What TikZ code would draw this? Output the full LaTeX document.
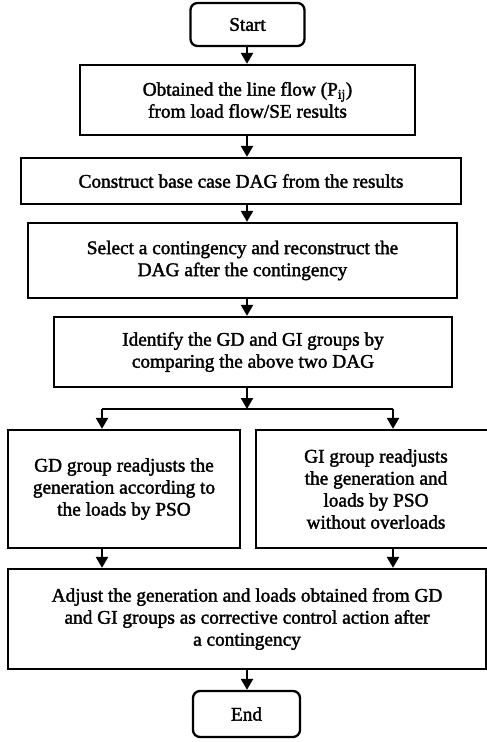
\documentclass[tikz,border=0pt]{standalone}
\usepackage{fontspec}
\setmainfont{Liberation Serif}
\newfontfamily\heavyserif[FakeBold=1.8]{Liberation Serif}
\usetikzlibrary{arrows.meta}
\begin{document}
\begin{tikzpicture}[x=1pt,y=-1pt,
  every node/.style={font=\heavyserif\fontsize{19.3}{22}\selectfont, align=center, inner sep=0pt},
  procbox/.style={draw, line width=2.3pt, minimum width=#1},
  termbox/.style={draw, line width=2.3pt, rounded corners=7pt},
  flow/.style={line width=2.3pt, -{Triangle[width=12pt,length=11pt]}},
  plain/.style={line width=2.3pt}]
  % page frame
  \useasboundingbox (0,0) rectangle (487,742);
  \fill[white] (0,0) rectangle (487,742);

  % main column axis and branch points
  \coordinate (spine) at (247,0);
  \coordinate (split) at (247,409);
  \coordinate (jl) at (102,409);
  \coordinate (jr) at (393,409);

  % steps of the procedure
  \node[termbox, minimum width=114pt, minimum height=43pt] (start) at (247.5,24.5) {Start};
  \node[procbox=335pt, minimum height=70pt] (b2) at (247.5,100)
    {Obtained the line flow (P\textsubscript{ij})\\from load flow/SE results};
  \node[procbox=440pt, minimum height=46pt] (b3) at (241,181)
    {Construct base case DAG from the results};
  \node[procbox=429pt, minimum height=75pt] (b4) at (242.5,260.5)
    {Select a contingency and reconstruct the\\DAG after the contingency};
  \node[procbox=398pt, minimum height=70pt] (b5) at (253,352)
    {Identify the GD and GI groups by\\comparing the above two DAG};
  \node[procbox=232pt, minimum height=118pt] (b6) at (124,489)
    {GD group readjusts the\\generation according to\\the loads by PSO};
  \node[procbox=240pt, minimum height=118pt] (b7) at (376,489)
    {GI group readjusts\\the generation and\\loads by PSO\\without overloads};
  \node[procbox=478pt, minimum height=100pt] (b8) at (247,619)
    {Adjust the generation and loads obtained from GD\\and GI groups as corrective control action after\\a contingency};
  \node[termbox, minimum width=107pt, minimum height=46pt] (end) at (246.5,714) {End};

  % connectors
  \draw[flow] (start.south -| spine) -- (b2.north -| spine);
  \draw[flow] (b2.south -| spine) -- (b3.north -| spine);
  \draw[flow] (b3.south -| spine) -- (b4.north -| spine);
  \draw[flow] (b4.south -| spine) -- (b5.north -| spine);
  \draw[flow] (b5.south -| spine) -- (split);
  \draw[plain] (jl) -- (jr);
  \draw[flow] (jl) -- (jl |- b6.north);
  \draw[flow] (jr) -- (jr |- b7.north);
  \draw[flow] (jl |- b6.south) -- (jl |- b8.north);
  \draw[flow] (jr |- b7.south) -- (jr |- b8.north);
  \draw[flow] (b8.south -| spine) -- (end.north -| spine);
\end{tikzpicture}
\end{document}
